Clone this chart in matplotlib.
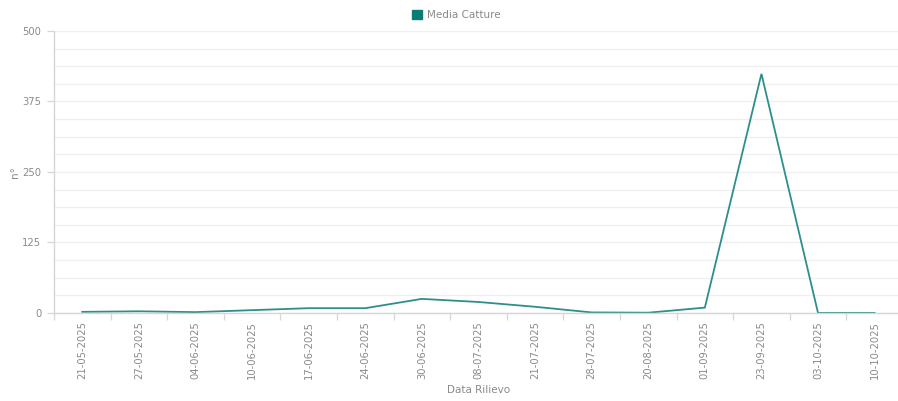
import matplotlib
matplotlib.use("Agg")
import matplotlib.pyplot as plt
from matplotlib.patches import Patch
from matplotlib.ticker import MultipleLocator, FixedLocator

dates = ["21-05-2025", "27-05-2025", "04-06-2025", "10-06-2025", "17-06-2025",
         "24-06-2025", "30-06-2025", "08-07-2025", "21-07-2025", "28-07-2025",
         "20-08-2025", "01-09-2025", "23-09-2025", "03-10-2025", "10-10-2025"]
media_catture = [2, 3, 1.5, 5, 8.5, 8.5, 25, 19.5, 11, 1, 0.5, 9.5, 424, 0, 0]

line_color = "#2e8f8a"
legend_color = "#0b7c74"
text_color = "#8a8a8a"
grid_color = "#efefef"
axis_color = "#d6d6d6"

plt.rcParams["font.family"] = ["DejaVu Sans"]

fig = plt.figure(figsize=(8.98, 4.01), dpi=100)
ax = fig.add_axes([0.0601, 0.2195, 0.9454, 0.7032])

x = list(range(len(dates)))
ax.plot(x, media_catture, color=line_color, linewidth=1.3, solid_joinstyle="miter")

ax.set_xlim(-0.5, len(dates) - 0.5)
ax.set_ylim(0, 500)

ax.yaxis.set_major_locator(MultipleLocator(125))
ax.yaxis.set_minor_locator(MultipleLocator(31.25))
ax.grid(True, which="both", axis="y", color=grid_color, linewidth=0.9)
ax.set_axisbelow(True)

ax.set_xticks(x)
ax.set_xticklabels(dates, rotation=90, fontsize=7.2, color=text_color)
ax.xaxis.set_minor_locator(FixedLocator([i + 0.5 for i in range(-1, len(dates))]))
ax.tick_params(axis="x", which="major", length=0, pad=6)
ax.tick_params(axis="x", which="minor", length=5, color=axis_color, width=0.9)
ax.tick_params(axis="y", which="major", length=5, color=axis_color, width=0.9,
               labelsize=7.2, labelcolor=text_color, pad=4)
ax.tick_params(axis="y", which="minor", length=0)

for side in ("top", "right"):
    ax.spines[side].set_visible(False)
for side in ("left", "bottom"):
    ax.spines[side].set_color(axis_color)
    ax.spines[side].set_linewidth(1.0)

ax.set_ylabel("n°", fontsize=7.5, color=text_color)
ax.yaxis.set_label_coords(-0.04, 0.5)
ax.set_xlabel("Data Rilievo", fontsize=7.5, color=text_color, labelpad=4)

handle = Patch(facecolor=legend_color, edgecolor=legend_color)
fig.legend([handle], ["Media Catture"], loc="center", bbox_to_anchor=(0.508, 0.962),
           frameon=False, fontsize=7.5, labelcolor=text_color,
           handlelength=1.0, handleheight=1.0, handletextpad=0.4)

fig.savefig("out.png", dpi=100)
